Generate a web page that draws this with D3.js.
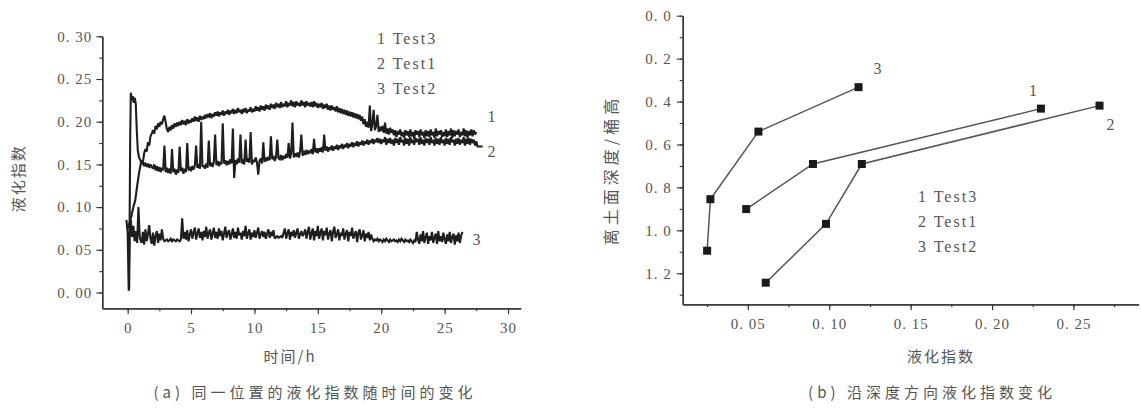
<!DOCTYPE html>
<html><head><meta charset="utf-8">
<script src="https://cdn.jsdelivr.net/npm/d3@7"></script>
<style>
html,body{margin:0;padding:0;background:#fff;}
svg{display:block;}
text{fill:#555;}
</style></head>
<body>
<svg id="chart" width="1141" height="409"></svg>
<script>
// ---------- Panel (a): liquefaction index vs time ----------
const legendLabels = ["1 Test3", "2 Test1", "3 Test2"];
const curveTags = ["1", "2", "3"];
const timeTicks = [0, 5, 10, 15, 20, 25, 30];
const indexTicksA = [0, 0.05, 0.10, 0.15, 0.20, 0.25, 0.30];
const timeStart = 1.0, timeStep = 0.1;

const test3Onset = [[0.0,.075],[0.15,.082],[0.3,.09],[0.45,.1],[0.6,.108],[0.75,.125],[0.9,.14]];
const test3Values = [
.148,.155,.152,.163,.168,.165,.176,.172,.183,.186,
.190,.186,.195,.191,.198,.194,.200,.197,.203,.207,
.199,.191,.188,.194,.190,.196,.192,.198,.194,.199,
.195,.200,.196,.202,.197,.201,.196,.203,.198,.202,
.199,.204,.200,.206,.201,.205,.200,.207,.202,.206,
.203,.208,.204,.209,.205,.210,.204,.209,.206,.211,
.207,.212,.206,.211,.208,.213,.207,.212,.209,.214,
.208,.213,.210,.215,.209,.214,.210,.216,.211,.214,
.209,.215,.211,.216,.210,.214,.212,.217,.211,.215,
.212,.218,.213,.217,.212,.219,.214,.218,.213,.220,
.215,.219,.214,.221,.216,.220,.215,.222,.217,.221,
.216,.223,.217,.221,.218,.224,.217,.222,.219,.225,
.218,.223,.217,.224,.219,.222,.218,.225,.219,.223,
.217,.224,.219,.222,.218,.223,.217,.224,.218,.222,
.216,.221,.217,.222,.215,.220,.216,.221,.214,.219,
.213,.219,.214,.217,.212,.218,.211,.216,.210,.215,
.209,.214,.208,.213,.207,.212,.206,.211,.205,.210,
.204,.209,.203,.208,.201,.206,.197,.203,.194,.200,
.193,.219,.189,.197,.214,.190,.195,.208,.188,.194,
.189,.195,.187,.199,.186,.192,.185,.193,.187,.191,
.184,.190,.182,.189,.185,.191,.183,.188,.181,.190,
.184,.189,.182,.191,.183,.188,.180,.190,.185,.189,
.182,.191,.184,.188,.181,.190,.183,.189,.182,.191,
.184,.188,.181,.192,.183,.189,.185,.190,.182,.188,
.183,.191,.182,.189,.184,.192,.181,.190,.183,.189,
.185,.191,.182,.188,.184,.192,.183,.190,.181,.189,
.184,.191,.183,.190,.185,.188];

const test1Onset = [[0.05,.002],[0.12,.004],[0.2,.18],[0.25,.234],[0.32,.225],[0.4,.23],[0.48,.222],[0.56,.228],[0.64,.221],[0.72,.19],[0.8,.166],[0.9,.158]];
const test1Values = [
.155,.150,.153,.148,.152,.147,.151,.146,.150,.147,
.145,.150,.143,.148,.142,.147,.141,.146,.143,.172,
.141,.146,.140,.145,.139,.168,.141,.145,.138,.144,
.140,.171,.142,.146,.139,.145,.141,.175,.143,.147,
.142,.148,.144,.149,.172,.146,.150,.145,.200,.147,
.149,.145,.151,.146,.178,.148,.152,.147,.153,.185,
.149,.154,.148,.153,.150,.198,.151,.155,.149,.154,
.150,.156,.151,.192,.134,.155,.150,.157,.152,.185,
.151,.156,.150,.179,.153,.157,.152,.188,.150,.155,
.153,.158,.152,.138,.154,.157,.151,.176,.153,.158,
.154,.159,.155,.183,.156,.160,.154,.158,.179,.157,
.156,.161,.155,.160,.157,.162,.158,.175,.157,.163,
.199,.158,.163,.159,.164,.158,.165,.185,.160,.166,
.161,.167,.162,.166,.163,.168,.162,.180,.164,.169,
.163,.169,.165,.170,.164,.185,.166,.171,.165,.170,
.167,.172,.166,.171,.168,.173,.167,.172,.169,.174,
.168,.173,.170,.175,.169,.174,.171,.176,.170,.175,
.172,.177,.171,.176,.173,.178,.172,.177,.174,.179,
.173,.178,.175,.180,.174,.179,.176,.181,.175,.180,
.174,.179,.176,.182,.173,.180,.175,.181,.174,.179,
.172,.181,.175,.180,.173,.182,.176,.179,.172,.181,
.174,.180,.172,.182,.175,.179,.173,.181,.176,.180,
.173,.182,.174,.179,.172,.181,.175,.180,.173,.182,
.175,.179,.172,.181,.174,.180,.173,.182,.175,.179,
.172,.181,.174,.180,.173,.182,.176,.179,.172,.180,
.174,.181,.173,.179,.175,.182,.172,.180,.174,.181,
.173,.180,.175,.179,.172,.177];
const test1Tail = [[27.6,.171],[28.0,.171]];

const test2Onset = [[-0.1,.085],[0.0,.07],[0.08,.004],[0.16,.07],[0.25,.085],[0.35,.065],[0.45,.078],[0.55,.06],[0.65,.072],[0.75,.058],[0.85,.1],[0.95,.065]];
const test2Values = [
.062,.058,.071,.056,.074,.060,.068,.079,.063,.057,
.070,.055,.066,.072,.058,.069,.061,.074,.063,.060,
.061,.062,.060,.061,.063,.060,.062,.061,.060,.062,
.061,.060,.062,.087,.063,.071,.062,.073,.060,.068,
.074,.063,.070,.076,.062,.069,.075,.064,.071,.061,
.072,.065,.077,.063,.070,.074,.062,.069,.076,.064,
.071,.063,.075,.066,.072,.061,.069,.077,.064,.070,
.073,.062,.068,.075,.064,.071,.063,.076,.067,.070,
.062,.072,.066,.078,.063,.069,.074,.062,.070,.065,
.073,.064,.070,.076,.063,.068,.072,.065,.071,.063,
.069,.074,.064,.071,.066,.073,.063,.065,.066,.064,
.065,.066,.064,.070,.075,.063,.069,.074,.062,.071,
.066,.073,.064,.070,.075,.063,.068,.072,.066,.069,
.074,.063,.071,.077,.062,.069,.075,.061,.072,.066,
.078,.063,.070,.075,.061,.072,.067,.076,.062,.069,
.073,.060,.071,.077,.064,.068,.074,.061,.070,.066,
.075,.062,.069,.073,.060,.071,.066,.076,.063,.068,
.072,.059,.070,.074,.062,.067,.073,.060,.069,.064,
.071,.061,.068,.063,.060,.062,.061,.063,.060,.062,
.061,.059,.062,.060,.063,.061,.059,.062,.060,.061,
.062,.060,.061,.059,.062,.060,.063,.061,.059,.062,
.060,.061,.059,.062,.060,.058,.061,.059,.071,.062,
.057,.068,.060,.072,.058,.065,.070,.057,.066,.061,
.071,.058,.064,.069,.057,.072,.060,.066,.059,.070,
.062,.057,.068,.060,.071,.058,.065,.069,.056,.067,
.060,.070,.058,.066,.071];

// ---------- Panel (b): depth vs liquefaction index ----------
const test3Index = [0.049, 0.090, 0.230];
const test3Depth = [0.901, 0.691, 0.433];
const test1Index = [0.061, 0.098, 0.120, 0.266];
const test1Depth = [1.244, 0.970, 0.691, 0.419];
const test2Index = [0.025, 0.027, 0.0565, 0.118];
const test2Depth = [1.095, 0.855, 0.540, 0.333];
const indexTicksB = [0.05, 0.10, 0.15, 0.20, 0.25];
const depthTicks = [0.0, 0.2, 0.4, 0.6, 0.8, 1.0, 1.2];

const titleA = "(a) 同一位置的液化指数随时间的变化";
const titleB = "(b) 沿深度方向液化指数变化";
const xTitleA = "时间/h", yTitleA = "液化指数";
const xTitleB = "液化指数", yTitleB = "离土面深度/桶高";

const svg = d3.select("#chart");
const numFont = "'Liberation Serif','DejaVu Serif',serif";
const cjkFont = "'Noto Sans CJK SC','Noto Sans',sans-serif";
const axisColor = "#333";
const lineColor = "#1e1e1e";

function fmt(d, digits){ return d3.format("." + digits + "f")(d).replace(".", ". "); }

function styleAxis(g){
  g.select(".domain").attr("stroke", axisColor).attr("stroke-width", 1.3);
  g.selectAll(".tick line").attr("stroke", axisColor).attr("stroke-width", 1.1);
  g.selectAll(".tick text").attr("fill", "#555").style("font-family", numFont)
    .style("font-size", "15px").style("letter-spacing", "1px");
}

// ----- panel a scales -----
const xA = d3.scaleLinear().domain([-2, 31]).range([102.3, 520.7]);
const yA = d3.scaleLinear().domain([-0.0185, 0.30]).range([308.3, 36.3]);

const gA = svg.append("g");
gA.append("g").attr("transform", `translate(0,${yA.range()[0]})`)
  .call(d3.axisBottom(xA).tickValues(d3.range(0, 31, 2.5)).tickSize(3).tickFormat("").tickSizeOuter(0))
  .call(styleAxis);
gA.append("g").attr("transform", `translate(${xA.range()[0]},0)`)
  .call(d3.axisLeft(yA).tickValues(d3.range(0, 0.301, 0.025)).tickSize(3).tickFormat("").tickSizeOuter(0))
  .call(styleAxis);
gA.append("g").attr("transform", `translate(0,${yA.range()[0]})`)
  .call(d3.axisBottom(xA).tickValues(timeTicks).tickSize(6).tickPadding(8).tickSizeOuter(0))
  .call(styleAxis);
gA.append("g").attr("transform", `translate(${xA.range()[0]},0)`)
  .call(d3.axisLeft(yA).tickValues(indexTicksA).tickSize(6).tickPadding(4).tickFormat(d => fmt(d, 2)).tickSizeOuter(0))
  .call(styleAxis);

function series(onset, values, tail){
  return onset.concat(values.map((v, i) => [timeStart + i * timeStep, v]), tail || []);
}
const lineA = d3.line().x(d => xA(d[0])).y(d => yA(d[1]));
[ [test2Onset, test2Values, []], [test1Onset, test1Values, test1Tail], [test3Onset, test3Values, []] ].forEach(([o, v, t]) => {
  gA.append("path").datum(series(o, v, t)).attr("d", lineA)
    .attr("fill", "none").attr("stroke", lineColor).attr("stroke-width", 2.1).attr("stroke-linejoin", "miter")
    .attr("stroke-miterlimit", 2);
});

legendLabels.forEach((t, i) => {
  gA.append("text").attr("x", 377).attr("y", 44 + i * 25).text(t)
    .style("font-family", numFont).style("font-size", "16px").style("letter-spacing", "2px");
});
const tagPosA = [[27.6, 0.205], [27.6, 0.165], [26.4, 0.062]];
curveTags.forEach((t, i) => {
  gA.append("text").attr("x", xA(tagPosA[i][0]) + 10).attr("y", yA(tagPosA[i][1]) + 5).text(t)
    .style("font-family", numFont).style("font-size", "16px");
});
gA.append("text").attr("x", 290).attr("y", 362).attr("text-anchor", "middle").text(xTitleA)
  .style("font-family", cjkFont).style("font-size", "15px").style("letter-spacing", "2px");
gA.append("text").attr("transform", `translate(24,${(yA.range()[0] + yA.range()[1]) / 2 + 6}) rotate(-90)`)
  .attr("text-anchor", "middle").text(yTitleA)
  .style("font-family", cjkFont).style("font-size", "15px").style("letter-spacing", "2px");
gA.append("text").attr("x", 315).attr("y", 398).attr("text-anchor", "middle").text(titleA)
  .style("font-family", cjkFont).style("font-size", "15px").style("letter-spacing", "4px");

// ----- panel b -----
const xB = d3.scaleLinear().domain([0.01, 0.29]).range([682.7, 1138.6]);
const yB = d3.scaleLinear().domain([0, 1.3447]).range([15.7, 304.3]);
const gB = svg.append("g");
gB.append("g").attr("transform", `translate(0,${yB.range()[1]})`)
  .call(d3.axisBottom(xB).tickValues(d3.range(0.025, 0.29, 0.025)).tickSize(3).tickFormat("").tickSizeOuter(0))
  .call(styleAxis);
gB.append("g").attr("transform", `translate(${xB.range()[0]},0)`)
  .call(d3.axisLeft(yB).tickValues(d3.range(0, 1.31, 0.1)).tickSize(3).tickFormat("").tickSizeOuter(0))
  .call(styleAxis);
gB.append("g").attr("transform", `translate(0,${yB.range()[1]})`)
  .call(d3.axisBottom(xB).tickValues(indexTicksB).tickSize(6).tickPadding(8).tickFormat(d => fmt(d, 2)).tickSizeOuter(0))
  .call(styleAxis);
gB.append("g").attr("transform", `translate(${xB.range()[0]},0)`)
  .call(d3.axisLeft(yB).tickValues(depthTicks).tickSize(6).tickPadding(5).tickFormat(d => fmt(d, 1)).tickSizeOuter(0))
  .call(styleAxis);

const lineB = d3.line().x(d => xB(d[0])).y(d => yB(d[1]));
[[test3Index, test3Depth], [test1Index, test1Depth], [test2Index, test2Depth]].forEach(([xs, ys]) => {
  const pts = xs.map((x, i) => [x, ys[i]]);
  gB.append("path").datum(pts).attr("d", lineB).attr("fill", "none").attr("stroke", "#555").attr("stroke-width", 1.5);
  gB.selectAll(null).data(pts).enter().append("rect")
    .attr("x", d => xB(d[0]) - 4).attr("y", d => yB(d[1]) - 4).attr("width", 8).attr("height", 8)
    .attr("fill", "#1a1a1a");
});
legendLabels.forEach((t, i) => {
  gB.append("text").attr("x", 918).attr("y", 202 + i * 25).text(t)
    .style("font-family", numFont).style("font-size", "16px").style("letter-spacing", "2px");
});
const tagPosB = [[0.230, 0.433, -12, -13], [0.266, 0.419, 7, 24], [0.118, 0.333, 15, -13]];
curveTags.forEach((t, i) => {
  const p = tagPosB[i];
  gB.append("text").attr("x", xB(p[0]) + p[2]).attr("y", yB(p[1]) + p[3]).text(t)
    .style("font-family", numFont).style("font-size", "16px");
});
gB.append("text").attr("x", 941).attr("y", 362).attr("text-anchor", "middle").text(xTitleB)
  .style("font-family", cjkFont).style("font-size", "15px").style("letter-spacing", "2px");
gB.append("text").attr("transform", `translate(617,${(yB.range()[0] + yB.range()[1]) / 2 + 10}) rotate(-90)`)
  .attr("text-anchor", "middle").text(yTitleB)
  .style("font-family", cjkFont).style("font-size", "16px").style("letter-spacing", "4px");
gB.append("text").attr("x", 932).attr("y", 398).attr("text-anchor", "middle").text(titleB)
  .style("font-family", cjkFont).style("font-size", "15px").style("letter-spacing", "4px");
</script>
</body></html>
